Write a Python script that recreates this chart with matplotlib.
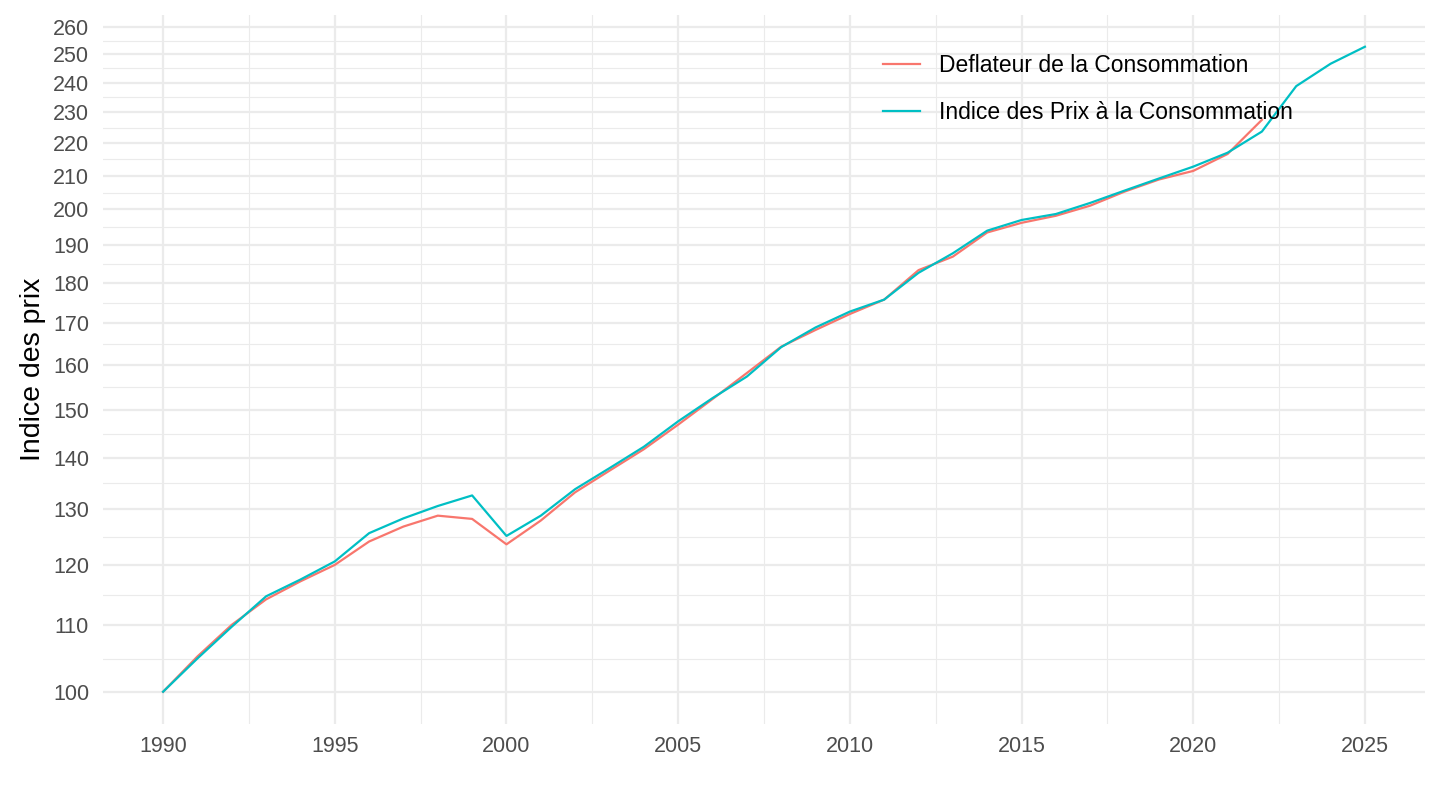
import numpy as np
import matplotlib
matplotlib.use("Agg")
import matplotlib.pyplot as plt
from matplotlib.ticker import FixedLocator, NullFormatter, FixedFormatter

years_defl = list(range(1990, 2023))
defl = [100.0, 105.2, 110.1, 114.2, 117.2, 120.0, 124.1, 126.8, 128.8, 128.2,
        123.6, 127.9, 133.2, 137.4, 141.7, 146.8, 152.3, 158.1, 164.2, 168.2,
        172.1, 175.7, 183.3, 186.9, 193.5, 196.2, 198.2, 201.1, 205.2, 208.8,
        211.4, 216.6, 227.5]

years_ipc = list(range(1990, 2026))
ipc = [100.0, 104.9, 109.8, 114.7, 117.5, 120.6, 125.6, 128.3, 130.6, 132.6,
       125.1, 128.8, 133.8, 137.9, 142.2, 147.5, 152.5, 157.3, 164.1, 168.8,
       172.7, 175.7, 182.6, 187.8, 194.0, 197.0, 198.7, 201.9, 205.5, 209.1,
       212.7, 217.0, 223.7, 238.8, 246.6, 252.7]

labels = ["Deflateur de la Consommation", "Indice des Prix à la Consommation"]
colors = ["#F8766D", "#00BFC4"]
y_breaks = list(range(100, 261, 10))
x_breaks = [1990, 1995, 2000, 2005, 2010, 2015, 2020, 2025]

plt.rcParams['font.family'] = ['Liberation Sans', 'DejaVu Sans']

fig = plt.figure(figsize=(14.4, 8.1), dpi=100)
ax = fig.add_axes([103/1440, 1 - 724/810, (1425-103)/1440, (724-14.5)/810])

ax.plot(years_defl, defl, color=colors[0], lw=1.6, label=labels[0], zorder=3)
ax.plot(years_ipc, ipc, color=colors[1], lw=1.6, label=labels[1], zorder=3)

ax.set_yscale('log')
allv = defl + ipc
lo, hi = np.log(min(allv)), np.log(max(allv))
pad = 0.05 * (hi - lo)
ax.set_ylim(np.exp(lo - pad), np.exp(hi + pad))
xmin, xmax = 1990, 2025
ax.set_xlim(xmin - 0.05 * (xmax - xmin), xmax + 0.05 * (xmax - xmin))

ax.yaxis.set_major_locator(FixedLocator(y_breaks))
ax.yaxis.set_major_formatter(FixedFormatter([str(v) for v in y_breaks]))
ymin_b = [np.sqrt(a * b) for a, b in zip(y_breaks[:-1], y_breaks[1:])]
ax.yaxis.set_minor_locator(FixedLocator(ymin_b))
ax.yaxis.set_minor_formatter(NullFormatter())
ax.xaxis.set_major_locator(FixedLocator(x_breaks))
ax.xaxis.set_minor_locator(FixedLocator([b + 2.5 for b in x_breaks[:-1]]))
ax.xaxis.set_minor_formatter(NullFormatter())

ax.grid(which='major', color='#EBEBEB', lw=1.6, zorder=0)
ax.grid(which='minor', color='#EBEBEB', lw=0.8, zorder=0)
for s in ax.spines.values():
    s.set_visible(False)
ax.tick_params(which='both', length=0)
ax.tick_params(axis='both', labelsize=15.5, labelcolor='#4D4D4D')
ax.tick_params(axis='x', pad=9)
ax.tick_params(axis='y', pad=10)
ax.set_ylabel("Indice des prix", fontsize=20.5, color='black', labelpad=5)

leg = ax.legend(loc='upper left', frameon=False, fontsize=16.5,
                handlelength=1.6, handletextpad=0.85, labelspacing=1.03,
                borderpad=0, borderaxespad=0,
                bbox_to_anchor=(883/1440, 1 - 54/810), bbox_transform=fig.transFigure)

fig.savefig("out.png", dpi=100, facecolor='white')
